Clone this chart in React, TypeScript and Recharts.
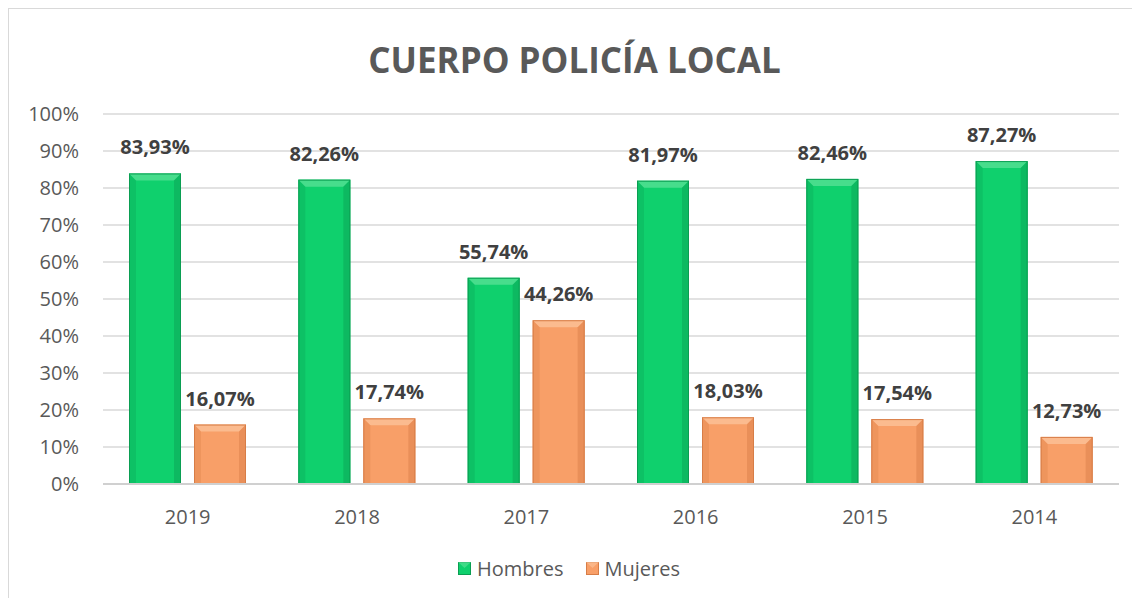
import React from 'react';
import { BarChart, Bar, XAxis, YAxis, CartesianGrid, Legend, LabelList } from 'recharts';

const years = ['2019', '2018', '2017', '2016', '2015', '2014'];
const hombres = [83.93, 82.26, 55.74, 81.97, 82.46, 87.27];
const mujeres = [16.07, 17.74, 44.26, 18.03, 17.54, 12.73];
const yTicks = [0, 10, 20, 30, 40, 50, 60, 70, 80, 90, 100];

const data = years.map((y, i) => ({ year: y, Hombres: hombres[i], Mujeres: mujeres[i] }));

const GREEN = { base: '#0fd06d', dark: '#0a9e52', light: '#5fe39a' };
const ORANGE = { base: '#f89f68', dark: '#d77d47', light: '#fcc79f' };

const makeShape = (c: { base: string; dark: string; light: string }) => (props: any) => {
  const { x, y, width, height } = props;
  if (!height || height <= 0) return null;
  const b = Math.min(7, height / 3);
  return (
    <g>
      <rect x={x} y={y} width={width} height={height} fill={c.base} />
      <polygon points={`${x},${y} ${x + width},${y} ${x + width - b},${y + b} ${x + b},${y + b}`} fill={c.light} opacity={0.7} />
      <polygon points={`${x},${y} ${x + b},${y + b} ${x + b},${y + height} ${x},${y + height}`} fill={c.dark} opacity={0.3} />
      <polygon points={`${x + width},${y} ${x + width - b},${y + b} ${x + width - b},${y + height} ${x + width},${y + height}`} fill={c.dark} opacity={0.45} />
      <rect x={x + 0.5} y={y + 0.5} width={width - 1} height={height - 1} fill="none" stroke={c.dark} strokeWidth={1} />
    </g>
  );
};

const fmt = (v: any) => `${Number(v).toFixed(2).replace('.', ',')}%`;

const LegendContent = () => (
  <div style={{ display: 'flex', justifyContent: 'center', alignItems: 'center', fontFamily: 'Open Sans', fontSize: 20, color: '#595959', paddingLeft: 10 }}>
    {[
      { name: 'Hombres', c: GREEN },
      { name: 'Mujeres', c: ORANGE },
    ].map((it, i) => (
      <div key={it.name} style={{ display: 'flex', alignItems: 'center', marginLeft: i ? 22 : 0 }}>
        <svg width={13} height={13} style={{ marginRight: 6 }}>
          <rect x={0.5} y={0.5} width={12} height={12} fill={it.c.base} stroke={it.c.dark} />
          <polygon points="0,0 13,0 6.5,6" fill={it.c.light} opacity={0.6} />
        </svg>
        <span>{it.name}</span>
      </div>
    ))}
  </div>
);

export default function App() {
  return (
    <div style={{ width: 1131, height: 589, border: '1px solid #d9d9d9', position: 'relative', background: '#fff', fontFamily: 'Open Sans' }}>
      <div style={{ position: 'absolute', top: 27, left: 0, width: 1131, textAlign: 'center', fontFamily: 'Open Sans', fontWeight: 700, fontSize: 35, color: '#595959' }}>
        CUERPO POLICÍA LOCAL
      </div>
      <BarChart
        width={1131}
        height={589}
        data={data}
        margin={{ top: 105, right: 21, bottom: 3, left: 0 }}
        barSize={52}
        barGap={13}
      >
        <CartesianGrid vertical={false} stroke="#d9d9d9" strokeWidth={1.5} />
        <XAxis
          dataKey="year"
          height={71}
          tickLine={false}
          axisLine={{ stroke: '#d0d0d0', strokeWidth: 2 }}
          tickMargin={20}
          tick={{ fill: '#595959', fontSize: 20, fontFamily: 'Open Sans' }}
        />
        <YAxis
          width={94}
          domain={[0, 100]}
          ticks={yTicks}
          tickFormatter={(v: number) => `${v}%`}
          tickLine={false}
          axisLine={false}
          tickMargin={18}
          tick={{ fill: '#595959', fontSize: 20, fontFamily: 'Open Sans' }}
        />
        <Legend verticalAlign="bottom" height={40} content={LegendContent} />
        <Bar dataKey="Hombres" fill={GREEN.base} shape={makeShape(GREEN)} isAnimationActive={false}>
          <LabelList dataKey="Hombres" position="top" offset={19} formatter={fmt} fill="#404040" fontSize={20} fontWeight={700} fontFamily="Open Sans" />
        </Bar>
        <Bar dataKey="Mujeres" fill={ORANGE.base} shape={makeShape(ORANGE)} isAnimationActive={false}>
          <LabelList dataKey="Mujeres" position="top" offset={19} formatter={fmt} fill="#404040" fontSize={20} fontWeight={700} fontFamily="Open Sans" />
        </Bar>
      </BarChart>
    </div>
  );
}
